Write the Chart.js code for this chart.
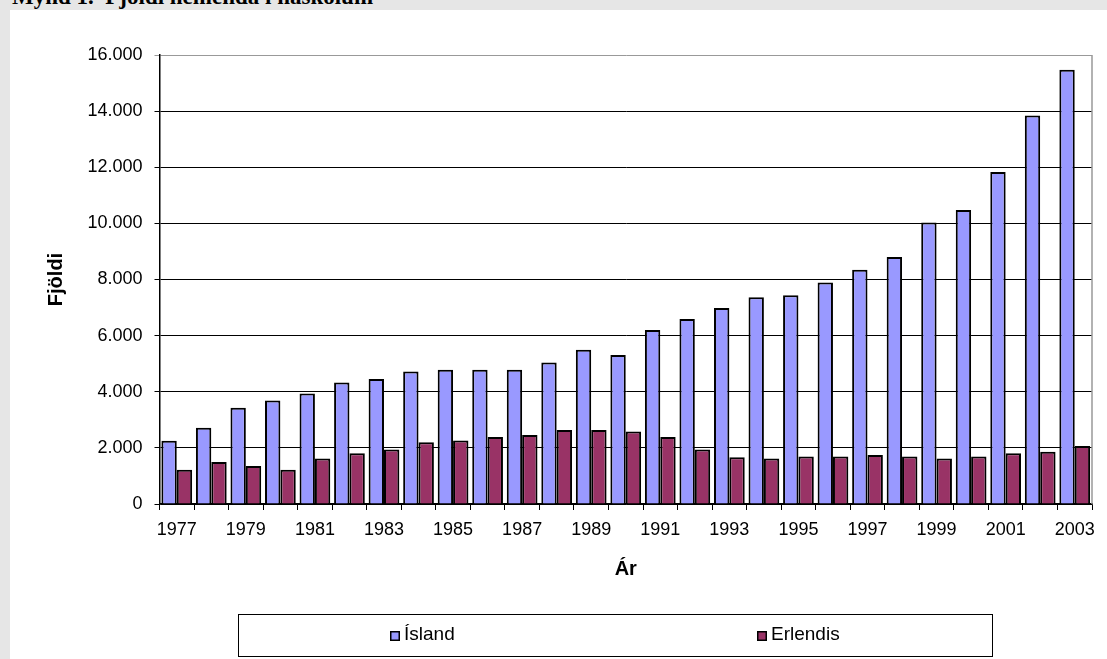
<!DOCTYPE html>
<html>
<head>
<meta charset="utf-8">
<script src="https://cdn.jsdelivr.net/npm/chart.js@4/dist/chart.umd.min.js"></script>
<style>
  html, body { margin: 0; padding: 0; }
  body { width: 1107px; height: 659px; background: #e6e6e6; position: relative; overflow: hidden; }
  #sheet { position: absolute; left: 10px; top: 10px; right: 0; bottom: 0; background: #fff; }
  #title { position: absolute; left: 12px; top: -16px; font: bold 23px "Liberation Serif", serif; color: #000; white-space: nowrap; }
  #wrap { position: absolute; left: 0; top: 0; width: 1107px; height: 659px; }
</style>
</head>
<body>
<div id="sheet"></div>
<div id="title">Mynd 1.&nbsp; Fjöldi nemenda í háskólum</div>
<div id="wrap"><canvas id="chart" width="1107" height="659"></canvas></div>
<script>
const years = ['1977','1978','1979','1980','1981','1982','1983','1984','1985','1986','1987','1988','1989','1990',
               '1991','1992','1993','1994','1995','1996','1997','1998','1999','2000','2001','2002','2003'];
const island = [2250, 2720, 3430, 3690, 3940, 4330, 4450, 4720, 4780, 4780, 4780, 5040, 5500, 5310,
                6200, 6590, 6980, 7370, 7440, 7890, 8350, 8800, 10030, 10480, 11830, 13840, 15470];
const erlendis = [1220, 1500, 1350, 1220, 1620, 1810, 1940, 2200, 2260, 2390, 2460, 2640, 2640, 2580,
                  2390, 1940, 1670, 1620, 1690, 1690, 1750, 1690, 1620, 1690, 1810, 1860, 2070];
const seriesNames = ['Ísland', 'Erlendis'];
const seriesColors = ['#9999ff', '#993366'];

const font = 'Liberation Sans, Arial, sans-serif';

// right border of plot area + legend box
const framePlugin = {
    id: 'frame',
    beforeDatasetsDraw(chart) {
        const {ctx, chartArea: a} = chart;
        ctx.save();
        ctx.strokeStyle = '#999';
        ctx.lineWidth = 1.5;
        ctx.beginPath();
        ctx.moveTo(a.right, a.top);
        ctx.lineTo(a.right, a.bottom);
        ctx.stroke();
        ctx.restore();
    },
    afterDraw(chart) {
        const ctx = chart.ctx;
        ctx.save();
        ctx.strokeStyle = '#000';
        ctx.lineWidth = 1;
        ctx.strokeRect(238.5, 614.5, 754, 42);
        const items = [390, 757];
        ctx.font = '19px ' + font;
        ctx.textBaseline = 'middle';
        items.forEach((x, i) => {
            ctx.fillStyle = seriesColors[i];
            ctx.fillRect(x, 631, 10, 10);
            ctx.strokeStyle = '#000';
            ctx.lineWidth = 1.5;
            ctx.strokeRect(x + 0.75, 631.75, 8.5, 8.5);
            ctx.fillStyle = '#000';
            ctx.fillText(seriesNames[i], x + 14, 635);
        });
        ctx.restore();
    }
};

new Chart(document.getElementById('chart').getContext('2d'), {
    type: 'bar',
    data: {
        labels: years,
        datasets: [
            { label: seriesNames[0], data: island, backgroundColor: seriesColors[0],
              borderColor: '#000', borderWidth: 2, categoryPercentage: 0.89, barPercentage: 1.0 },
            { label: seriesNames[1], data: erlendis, backgroundColor: seriesColors[1],
              borderColor: '#000', borderWidth: 2, categoryPercentage: 0.89, barPercentage: 1.0 }
        ]
    },
    options: {
        responsive: false,
        animation: false,
        layout: { padding: { left: 0, top: 55, right: 15, bottom: 76 } },
        plugins: { legend: { display: false }, tooltip: { enabled: false } },
        scales: {
            x: {
                grid: { display: true, drawOnChartArea: false, drawTicks: true, tickLength: 6, color: '#000', offset: true },
                border: { display: true, color: '#000', width: 1.5 },
                ticks: {
                    autoSkip: false, maxRotation: 0, padding: 9, color: '#000',
                    font: { family: font, size: 18 },
                    callback: (v, i) => (i % 2 === 0 ? years[i] : '')
                },
                title: { display: true, text: 'Ár', color: '#000', padding: { top: 0, bottom: 2 },
                         font: { family: font, size: 20, weight: 'bold' } },
                afterFit: s => { s.height = 79; }
            },
            y: {
                min: 0, max: 16000,
                grid: { color: c => (c.tick && c.tick.value === 16000 ? '#999' : '#000'), lineWidth: 1, tickLength: 5 },
                border: { display: true, color: '#000', width: 1.5 },
                ticks: {
                    stepSize: 2000, padding: 12, color: '#000',
                    font: { family: font, size: 18 },
                    callback: v => v.toLocaleString('de-DE')
                },
                title: { display: true, text: 'Fjöldi', color: '#000', padding: { top: 44, bottom: 0 },
                         font: { family: font, size: 20, weight: 'bold' } },
                afterFit: s => { s.width = 159.5; }
            }
        }
    },
    plugins: [framePlugin]
});
</script>
</body>
</html>
